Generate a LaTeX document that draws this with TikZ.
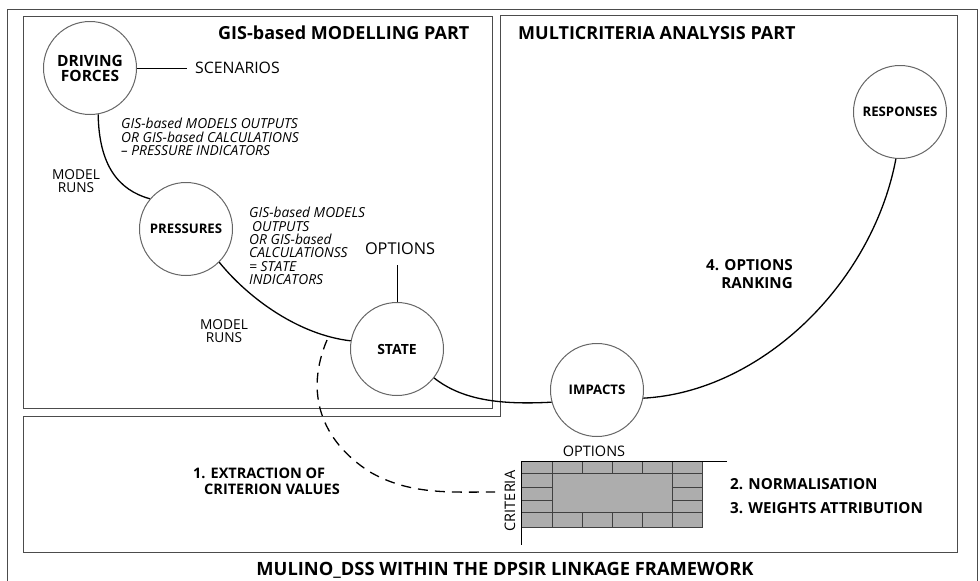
\documentclass[tikz,border=0pt]{standalone}
\usepackage{fontspec}
\setmainfont{Open Sans}
\begin{document}
\begin{tikzpicture}[x=1pt,y=-1pt,
  frame/.style={draw=black!70, line width=0.9pt},
  circ/.style={circle, draw=black!60, line width=1pt, minimum size=93pt, inner sep=0pt,
    font=\fontsize{13.2}{13.5}\selectfont\bfseries, align=center},
  link/.style={draw=black, line width=1.3pt},
  thinline/.style={draw=black, line width=0.7pt},
  ital/.style={font=\fontsize{13.8}{13.4}\selectfont\itshape, align=left, anchor=north west, inner sep=0pt},
  plain/.style={font=\fontsize{16.3}{16.5}\selectfont, align=center, inner sep=0pt},
  small/.style={font=\fontsize{13.7}{13.2}\selectfont, align=center, inner sep=0pt},
  smaller/.style={font=\fontsize{14.5}{14.5}\selectfont, align=center, inner sep=0pt},
  boldlab/.style={font=\fontsize{15.2}{17.5}\selectfont\bfseries, inner sep=0pt},
  head/.style={font=\fontsize{18}{18}\selectfont\bfseries, inner sep=0pt},
  gridl/.style={draw=black!75, line width=1pt},
  dashline/.style={draw=black, line width=1.3pt, dash pattern=on 10pt off 7pt}
]
\useasboundingbox (0,0) rectangle (980,581);
% frames
\draw[frame] (7,581) -- (7,9) -- (977,9) -- (977,581);
\draw[frame] (23,16) rectangle (492,408);
\draw[frame] (500,15) -- (957,15) -- (957,552) -- (23,552) -- (23,416) -- (500,416) -- cycle;
% headings
\node[head, anchor=west] (h1) at (218,33) {GIS-based MODELLING PART};
\node[head, anchor=west] (h2) at (518,33) {MULTICRITERIA ANALYSIS PART};
\node[head, font=\fontsize{18.3}{18}\selectfont\bfseries] (h3) at (505,570) {MULINO\_DSS WITHIN THE DPSIR LINKAGE FRAMEWORK};
% circles
\node[circ, font=\fontsize{15.5}{15}\selectfont\bfseries] (df) at (90,68) {DRIVING\\FORCES};
\node[circ] (pr) at (186,229) {PRESSURES};
\node[circ, font=\fontsize{14}{14}\selectfont\bfseries] (st) at (397,349) {STATE};
\node[circ] (im) at (597,390) {IMPACTS};
\node[circ] (re) at (900,112) {RESPONSES};
% links
\draw[link] (df.-80) .. controls (99,165) and (118,190) .. (pr.140);
\draw[link] (pr.-45) .. controls (250,300) and (300,335) .. (st.170);
\draw[link] (st.-38) .. controls (462,400) and (500,405) .. (im.-165);
\draw[link] (im.-10) .. controls (760,392) and (872,285) .. (re.-95);
% scenarios
\node[plain, anchor=west, font=\fontsize{15.8}{16}\selectfont] (sc) at (195,68) {SCENARIOS};
\draw[thinline, shorten >=8pt] (df.east) -- (sc.west);
% italic blocks
\node[ital] (it1) at (121,118) {GIS-based MODELS OUTPUTS\\OR GIS-based CALCULATIONS\\– PRESSURE INDICATORS};
\node[ital] (it2) at (249,207) {GIS-based MODELS\\\hspace*{3pt}OUTPUTS\\OR GIS-based\\CALCULATIONSS\\= STATE\\INDICATORS};
% model runs
\node[small] (mr1) at (76,181) {MODEL\\RUNS};
\node[small] (mr2) at (224,331) {MODEL\\RUNS};
% options
\node[plain] (op1) at (400,249) {OPTIONS};
\draw[thinline, shorten <=10pt] (st.north |- op1.south) -- (st.north);
% options ranking
\node[boldlab, align=right, anchor=east] (rank) at (793,274) {4. OPTIONS\\RANKING};
% matrix
\fill[black!32] (521,461) rectangle (702,527);
\draw[gridl] (521,461) rectangle (702,527);
\draw[gridl] (552,473) rectangle (672,512);
\foreach \x in {552,582,612,642,672} {
  \draw[gridl] (\x,461) -- (\x,473);
  \draw[gridl] (\x,512) -- (\x,527);
}
\foreach \y in {473,487,500,512} {
  \draw[gridl] (521,\y) -- (552,\y);
  \draw[gridl] (672,\y) -- (702,\y);
}
\coordinate (axo) at (521,461);
\coordinate (axx) at (727,461);
\coordinate (axy) at (521,545);
\draw[thinline] (axx) -- (axo) -- (axy);
\node[smaller] (op2) at (594,451) {OPTIONS};
\node[smaller, rotate=90] (cr) at (510,501) {CRITERIA};
% right labels
\node[boldlab, anchor=west] (norm) at (730,484) {2. NORMALISATION};
\node[boldlab, anchor=west] (wgt) at (730,508) {3. WEIGHTS ATTRIBUTION};
% extraction
\node[boldlab, anchor=west, font=\fontsize{14.5}{16}\selectfont\bfseries] (ex1) at (193,473) {1. EXTRACTION OF};
\node[boldlab, anchor=west, font=\fontsize{14.5}{16}\selectfont\bfseries] (ex2) at (204,489) {CRITERION VALUES};
% dashed link
\coordinate (ds) at (327,340);
\coordinate (de) at (495,492);
\draw[dashline] (ds) .. controls (305,392) and (320,440) .. (370,472) .. controls (410,495) and (450,492) .. (de);
\end{tikzpicture}
\end{document}
